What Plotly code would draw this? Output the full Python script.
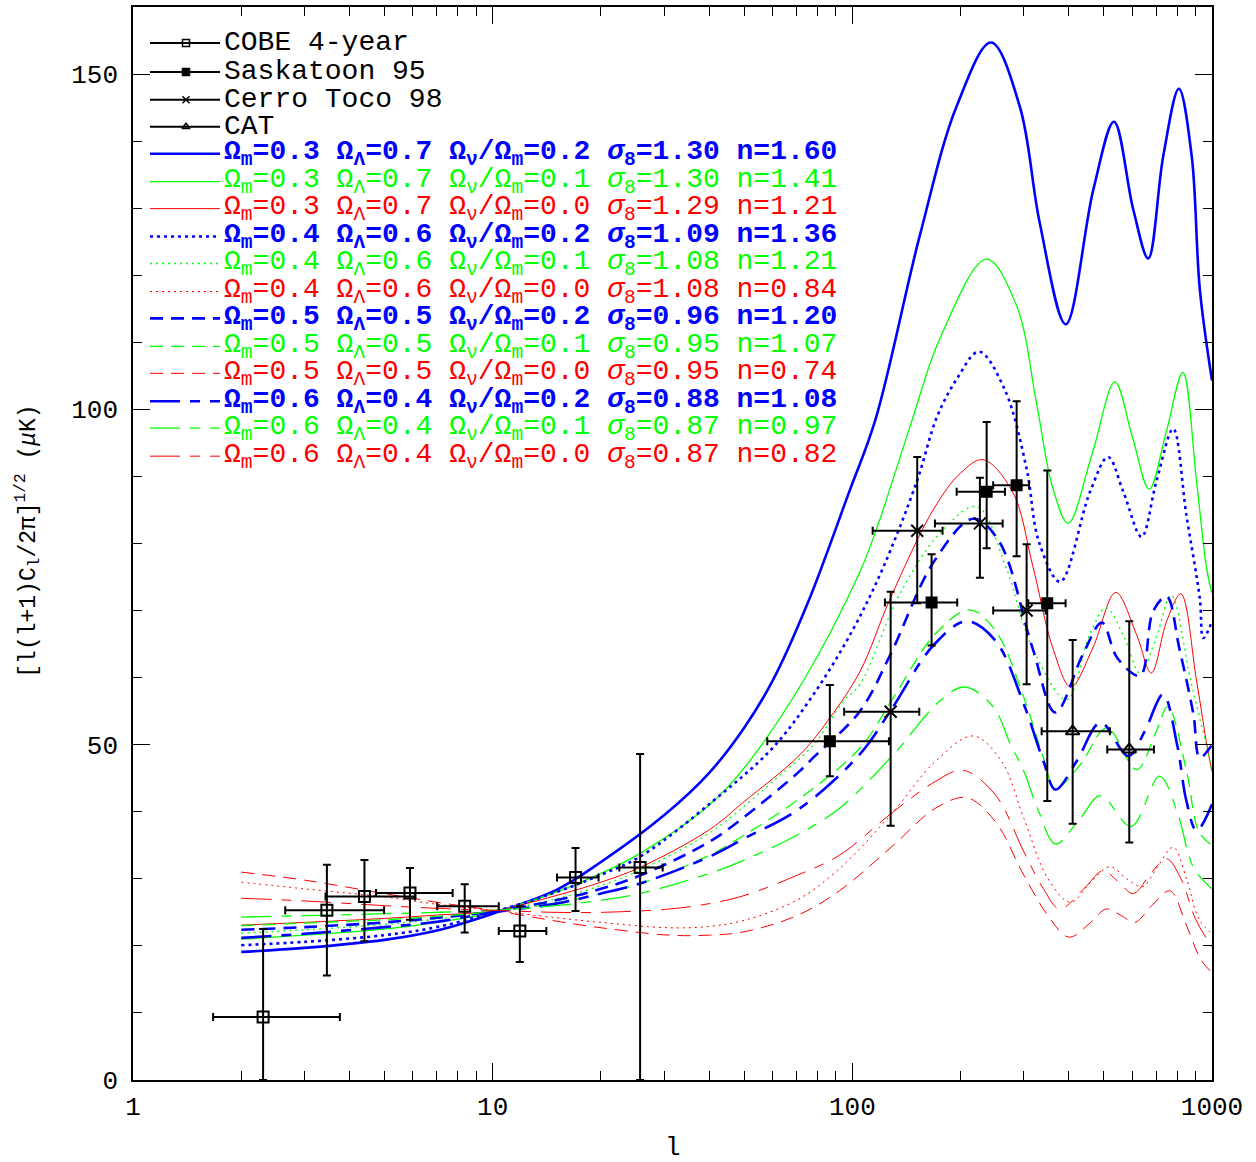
import plotly.graph_objects as go

# ---------------- data: measurements ----------------
cobe_l = [2.30, 3.46, 4.40, 5.89, 8.36, 11.9, 17.0, 25.7]
cobe_v = [9.4, 25.3, 27.35, 27.9, 25.9, 22.2, 30.2, 31.7]
cobe_vhi = [22.5, 32.1, 32.8, 31.6, 29.2, 25.9, 34.6, 48.6]
cobe_vlo = [0.0, 15.6, 20.7, 23.9, 22.0, 17.6, 25.2, 0.0]
cobe_llo = [1.67, 2.65, 3.43, 4.74, 7.01, 10.4, 15.1, 22.5]
cobe_lhi = [3.76, 4.99, 6.08, 7.74, 10.4, 14.1, 19.7, 29.7]

sask_l = [86.6, 166.1, 236.3, 286.3, 348.3]
sask_v = [50.5, 71.2, 87.7, 88.7, 71.1]
sask_vhi = [58.9, 78.4, 98.1, 101.2, 90.9]
sask_vlo = [45.3, 64.8, 79.3, 78.1, 41.6]
sask_llo = [58.0, 123.2, 195.0, 246.4, 308.4]
sask_lhi = [126.4, 195.7, 265.7, 310.0, 391.7]

ct_l = [127.8, 151.5, 226.3, 305.2]
ct_v = [54.9, 81.9, 83.0, 70.0]
ct_vhi = [72.8, 92.9, 89.8, 79.9]
ct_vlo = [37.9, 71.1, 74.9, 59.0]
ct_llo = [94.9, 113.9, 169.7, 246.4]
ct_lhi = [153.5, 178.2, 261.8, 345.0]

cat_l = [409.8, 588.8]
cat_v = [52.0, 49.3]
cat_vhi = [65.6, 68.4]
cat_vlo = [38.2, 35.4]
cat_llo = [336.0, 511.4]
cat_lhi = [520.0, 689.5]

# ---------------- data: model curves ----------------
b1_l = [2, 3, 5, 7, 10, 15, 20, 30, 40, 50, 60, 75, 98, 116, 154, 195, 243, 292, 332, 392, 468, 534, 604, 665, 732, 809, 878, 925, 1000]
b1_v = [19.1, 19.7, 20.9, 22.3, 24.8, 28.3, 32.5, 39.5, 45.8, 52.5, 59.5, 71.0, 87.7, 98.5, 125.9, 145.2, 154.7, 145.2, 127.8, 112.7, 132.8, 142.9, 129.8, 122.5, 137.8, 147.8, 137.8, 117.9, 104.3]

g1_l = [2, 3, 5, 7, 10, 15, 20, 25.7, 40, 50, 73, 105, 117, 146, 175, 236, 286, 325, 360, 398, 465, 537, 600, 669, 745, 830, 906, 966, 1000]
g1_v = [21.0, 21.6, 22.5, 23.5, 25.0, 28.0, 30.8, 33.8, 41.0, 46.5, 59.5, 75.8, 82.3, 98.1, 110.5, 122.4, 115.5, 101.0, 88.5, 83.0, 93.5, 104.1, 96.0, 88.1, 96.5, 105.5, 89.2, 76.3, 72.6]

b2_l = [2, 3, 5, 7, 10, 15, 20, 25.7, 41, 60, 78, 100, 122, 151, 172, 195, 225, 265, 305, 330, 378, 458, 514, 567, 637, 700, 780, 849, 925, 946, 1000]
b2_v = [20.1, 20.6, 21.6, 22.8, 25.0, 28.0, 30.6, 33.3, 41.6, 49.5, 57.5, 67.0, 76.5, 89.2, 98.9, 104.5, 108.6, 103.0, 91.2, 80.3, 74.3, 87.7, 92.9, 87.7, 81.0, 89.2, 97.1, 84.2, 71.8, 65.9, 68.4]

r1_l = [2, 3, 5, 7, 10, 15, 20, 25.7, 40, 50, 71.5, 86.6, 105, 127.5, 168.6, 200, 231, 279, 317, 361, 405, 466, 540, 617, 678, 748, 819, 906, 971, 1000]
r1_v = [23.1, 23.5, 24.1, 24.6, 25.2, 27.5, 29.5, 31.7, 37.3, 41.5, 48.5, 54.0, 60.9, 71.8, 85.2, 90.5, 92.5, 87.7, 76.8, 64.4, 58.6, 64.4, 72.7, 66.4, 60.7, 68.4, 72.5, 59.5, 49.5, 46.0]

g2_l = [2, 3, 5, 7, 10, 15, 20, 25.7, 40, 50, 60, 78, 94.5, 105, 135, 175, 222, 268, 317, 394, 457, 508, 570, 630, 700, 770, 873, 980, 1000]
g2_v = [21.9, 22.4, 23.2, 24.0, 25.1, 27.0, 29.0, 31.3, 36.8, 40.8, 44.5, 50.0, 56.5, 59.0, 72.3, 81.5, 85.5, 76.3, 64.4, 56.7, 66.4, 70.4, 66.0, 60.7, 66.0, 72.3, 59.5, 48.3, 46.0]

b3_l = [2, 3, 5, 7, 10, 15, 20, 25.7, 40, 50, 71.5, 78, 105, 127.5, 168.6, 217, 256, 317, 367, 437, 494, 546, 631, 686, 748, 811, 888, 925, 1000]
b3_v = [22.4, 22.8, 23.5, 24.2, 25.1, 26.8, 28.5, 30.5, 35.5, 39.2, 46.1, 48.1, 55.0, 63.4, 77.3, 83.7, 80.3, 64.4, 54.8, 63.4, 68.2, 62.9, 60.3, 69.9, 72.1, 64.4, 54.5, 48.1, 50.0]

b4_l = [2, 3, 5, 7, 10, 15, 20, 25.7, 40, 50, 71.5, 105, 127.5, 168.6, 208, 250, 300, 340, 367, 420, 490, 585, 650, 731, 800, 849, 906, 1000]
b4_v = [21.2, 21.8, 22.8, 23.6, 25.0, 26.3, 27.8, 29.3, 33.3, 36.0, 40.5, 48.6, 55.0, 64.9, 68.4, 65.5, 56.0, 47.5, 43.3, 47.5, 53.3, 48.3, 52.0, 57.5, 50.0, 41.6, 37.2, 41.1]

g3_l = [2, 3, 5, 7, 10, 15, 20, 25.7, 40, 50, 71.5, 105, 130, 170, 212, 250, 300, 340, 367, 430, 510, 617, 700, 754, 850, 920, 1000]
g3_v = [23.0, 23.4, 23.9, 24.4, 25.1, 26.4, 27.8, 29.3, 33.5, 36.5, 42.0, 49.5, 57.0, 66.5, 70.1, 67.0, 57.0, 48.0, 43.5, 47.0, 52.5, 46.3, 52.0, 55.7, 46.0, 37.0, 35.0]

g4_l = [2, 3, 5, 7, 10, 15, 20, 25.7, 40, 50, 70, 92, 130, 175, 205, 246, 275, 300, 330, 367, 430, 490, 596, 715, 800, 888, 1000]
g4_v = [24.3, 24.5, 24.8, 25.0, 25.3, 26.0, 26.8, 27.8, 30.8, 32.8, 36.5, 40.5, 48.5, 56.5, 58.6, 55.7, 50.1, 46.0, 40.0, 35.2, 39.0, 42.4, 37.8, 45.3, 40.0, 31.7, 28.5]

r2_l = [2, 3, 5, 7, 10, 15, 20, 31, 40, 50, 70, 92, 130, 170, 217, 260, 300, 350, 404, 460, 520, 580, 640, 700, 780, 850, 920, 1000]
r2_v = [29.5, 28.5, 27.3, 26.2, 25.3, 24.2, 23.5, 22.7, 22.9, 23.8, 26.8, 31.5, 40.0, 47.5, 51.3, 47.5, 39.0, 30.0, 26.5, 29.5, 31.8, 30.0, 28.8, 31.5, 34.7, 30.0, 24.0, 21.8]

r3_l = [2, 3, 5, 7, 10, 15, 20, 31, 40, 50, 70, 92, 130, 170, 208, 250, 300, 350, 400, 460, 508, 560, 610, 680, 764, 850, 930, 1000]
r3_v = [31.0, 29.8, 27.8, 26.5, 25.3, 23.7, 22.7, 21.6, 21.6, 22.1, 24.5, 28.2, 35.0, 40.5, 42.1, 38.5, 30.5, 24.5, 21.3, 23.5, 25.5, 24.5, 23.5, 26.0, 28.2, 23.0, 18.0, 16.0]

r4_l = [2, 3, 5, 7, 10, 15, 20, 31, 40, 50, 70, 92, 130, 170, 203, 250, 300, 340, 377, 440, 498, 550, 604, 680, 748, 820, 900, 1000]
r4_v = [27.1, 26.7, 26.0, 25.6, 25.3, 25.0, 25.0, 25.5, 26.3, 27.5, 30.5, 33.5, 40.0, 44.5, 46.2, 42.5, 34.0, 28.5, 25.5, 28.5, 31.2, 29.5, 27.8, 31.0, 33.0, 30.0, 24.0, 19.8]

# model parameters (legend text)
omega_m = ["0.3", "0.3", "0.3", "0.4", "0.4", "0.4", "0.5", "0.5", "0.5", "0.6", "0.6", "0.6"]
omega_l = ["0.7", "0.7", "0.7", "0.6", "0.6", "0.6", "0.5", "0.5", "0.5", "0.4", "0.4", "0.4"]
f_nu = ["0.2", "0.1", "0.0", "0.2", "0.1", "0.0", "0.2", "0.1", "0.0", "0.2", "0.1", "0.0"]
sigma_8 = ["1.30", "1.30", "1.29", "1.09", "1.08", "1.08", "0.96", "0.95", "0.95", "0.88", "0.87", "0.87"]
n_s = ["1.60", "1.41", "1.21", "1.36", "1.21", "0.84", "1.20", "1.07", "0.74", "1.08", "0.97", "0.82"]

data_names = ["COBE 4-year", "Saskatoon 95", "Cerro Toco 98", "CAT"]

x_tickvals = [1, 10, 100, 1000]
x_ticktext = ["1", "10", "100", "1000"]
x_minor = [2, 3, 4, 5, 6, 7, 8, 9, 20, 30, 40, 50, 60, 70, 80, 90, 200, 300, 400, 500, 600, 700, 800, 900]

# ---------------- styles ----------------
BLUE, GREEN, RED = "#0000ff", "#00ff00", "#ff0000"
curve_list = [(b1_l, b1_v), (g1_l, g1_v), (r1_l, r1_v),
              (b2_l, b2_v), (g2_l, g2_v), (r2_l, r2_v),
              (b3_l, b3_v), (g3_l, g3_v), (r3_l, r3_v),
              (b4_l, b4_v), (g4_l, g4_v), (r4_l, r4_v)]
colors = [BLUE, GREEN, RED] * 4
widths = [2.6, 1.3, 1.0] * 4
dot_b, dot_t = "3px,4px", "2px,4px"
dash_s = "13px,8px"
ldash = "30px,10px,10px,10px"
dashes = ["solid", "solid", "solid",
          dot_b, dot_t, dot_t,
          dash_s, dash_s, dash_s,
          ldash, ldash, ldash]

fig = go.Figure()

for (lx, vy), c, w, d in zip(curve_list, colors, widths, dashes):
    fig.add_trace(go.Scatter(x=lx, y=vy, mode="lines",
                             line=dict(color=c, width=w, dash=d, shape="spline", smoothing=1.0),
                             showlegend=False, hoverinfo="skip"))

def add_data(lx, vy, vhi, vlo, llo, lhi, symbol, size):
    fig.add_trace(go.Scatter(
        x=lx, y=vy, mode="markers",
        marker=dict(symbol=symbol, size=size, color="black",
                    line=dict(color="black", width=2)),
        error_y=dict(type="data", symmetric=False,
                     array=[h - v for h, v in zip(vhi, vy)],
                     arrayminus=[v - lo for v, lo in zip(vy, vlo)],
                     color="black", thickness=2, width=4),
        error_x=dict(type="data", symmetric=False,
                     array=[h - l for h, l in zip(lhi, lx)],
                     arrayminus=[l - lo for l, lo in zip(lx, llo)],
                     color="black", thickness=2, width=4),
        showlegend=False, hoverinfo="skip"))

add_data(cobe_l, cobe_v, cobe_vhi, cobe_vlo, cobe_llo, cobe_lhi, "square-open", 11)
add_data(sask_l, sask_v, sask_vhi, sask_vlo, sask_llo, sask_lhi, "square", 10)
add_data(ct_l, ct_v, ct_vhi, ct_vlo, ct_llo, ct_lhi, "x-thin-open", 12)
add_data(cat_l, cat_v, cat_vhi, cat_vlo, cat_llo, cat_lhi, "triangle-up-open", 12)

# ---------------- key (drawn on a pixel overlay) ----------------
row_y = [41, 70, 98, 125, 152, 180, 207, 235, 262, 290, 317, 345, 372, 400, 427, 455]
key_x0, key_x1, key_xm, text_x = 150, 220, 186, 222
key_symbols = ["square-open", "square", "x-thin-open", "triangle-up-open"]

for i, nm in enumerate(data_names):
    fig.add_trace(go.Scatter(x=[key_x0, key_xm, key_x1], y=[row_y[i]] * 3, xaxis="x2", yaxis="y2",
                             mode="lines", line=dict(color="black", width=2),
                             showlegend=False, hoverinfo="skip"))
    fig.add_trace(go.Scatter(x=[key_xm], y=[row_y[i]], xaxis="x2", yaxis="y2",
                             mode="markers",
                             marker=dict(symbol=key_symbols[i], size=7, color="black",
                                         line=dict(color="black", width=1.5)),
                             showlegend=False, hoverinfo="skip"))
    fig.add_annotation(x=text_x, y=row_y[i], xref="x2", yref="y2", text=nm,
                       showarrow=False, xanchor="left", yanchor="middle",
                       font=dict(family="Liberation Mono", size=28, color="black"))

for j in range(12):
    yy = row_y[4 + j]
    fig.add_trace(go.Scatter(x=[key_x0, key_x1], y=[yy, yy], xaxis="x2", yaxis="y2",
                             mode="lines", line=dict(color=colors[j], width=widths[j], dash=dashes[j]),
                             showlegend=False, hoverinfo="skip"))
    txt = (f"Ω<sub>m</sub>={omega_m[j]} Ω<sub>Λ</sub>={omega_l[j]} "
           f"Ω<sub>ν</sub>/Ω<sub>m</sub>={f_nu[j]} <i>σ</i><sub>8</sub>={sigma_8[j]} n={n_s[j]}")
    if colors[j] == BLUE:
        txt = "<b>" + txt + "</b>"
    fig.add_annotation(x=text_x, y=yy, xref="x2", yref="y2", text=txt,
                       showarrow=False, xanchor="left", yanchor="middle",
                       font=dict(family="Liberation Mono", size=28, color=colors[j]))

# axis titles (paper coordinates, outside the plotting area)
fig.add_annotation(x=-0.097, y=0.502, xref="paper", yref="paper",
                   text="[l(l+1)C<sub>l</sub>/2π]<sup>1/2</sup> (<i>μ</i>K)",
                   showarrow=False, textangle=-90, xanchor="center", yanchor="middle",
                   font=dict(family="Liberation Mono", size=23, color="black"))
fig.add_annotation(x=0.5005, y=-0.063, xref="paper", yref="paper", text="l", showarrow=False,
                   xanchor="center", yanchor="middle",
                   font=dict(family="Liberation Mono", size=26, color="black"))

axis_common = dict(showline=True, linecolor="black", linewidth=1.5, mirror="allticks",
                   ticks="inside", tickcolor="black", tickwidth=1, showgrid=False, zeroline=False,
                   tickfont=dict(family="Liberation Mono", size=26, color="black"))

fig.update_layout(
    width=1256, height=1162,
    margin=dict(l=133, r=44, t=5, b=82),
    paper_bgcolor="white", plot_bgcolor="white",
    showlegend=False,
    xaxis=dict(type="log", range=[0, 3], tickmode="array", tickvals=x_tickvals, ticktext=x_ticktext,
               ticklen=17, ticklabelstandoff=2,
               minor=dict(ticks="inside", tickmode="array", tickvals=x_minor, ticklen=9,
                          tickcolor="black", tickwidth=1, showgrid=False),
               **axis_common),
    yaxis=dict(range=[0, 160], tick0=0, dtick=50, ticklen=17, ticklabelstandoff=8,
               minor=dict(ticks="inside", dtick=10, ticklen=9, tickcolor="black",
                          tickwidth=1, showgrid=False),
               **axis_common),
    xaxis2=dict(overlaying="x", anchor="y2", range=[133, 1212], visible=False, fixedrange=True),
    yaxis2=dict(overlaying="y", anchor="x2", range=[1080, 5], visible=False, fixedrange=True),
)

fig.write_html("out.html")
